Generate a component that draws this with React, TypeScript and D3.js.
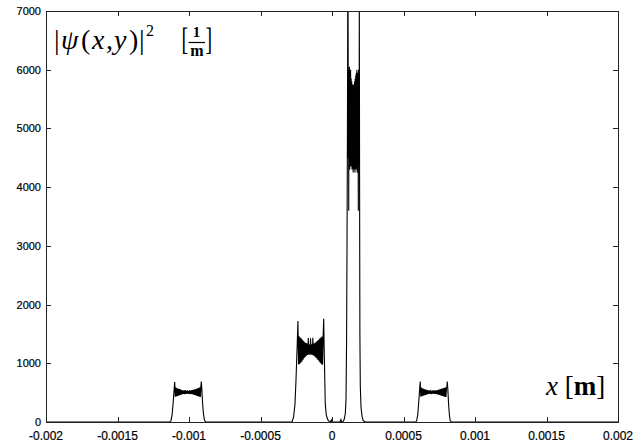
import React, { useEffect } from "react"
import * as d3 from "d3"

// axis ticks
const xTicks = [-0.002, -0.0015, -0.001, -0.0005, 0, 0.0005, 0.001, 0.0015, 0.002]
const xTickLabels = ["-0.002", "-0.0015", "-0.001", "-0.0005", "0", "0.0005", "0.001", "0.0015", "0.002"]
const yTicks = [0, 1000, 2000, 3000, 4000, 5000, 6000, 7000]
const yTickLabels = ["0", "1000", "2000", "3000", "4000", "5000", "6000", "7000"]

// |psi|^2, [x in m, value in 1/m]
const lobeLeft: [number, number][] = [
	[-0.001135, 0], [-0.001126, 20], [-0.001118, 130], [-0.001111, 320], [-0.001104, 560],
	[-0.0011, 680], [-0.001098, 560],
	[-0.001096, 430], [-0.001092, 590], [-0.001088, 435], [-0.001084, 575], [-0.00108, 445],
	[-0.001076, 570], [-0.001072, 450], [-0.001068, 560], [-0.001064, 455], [-0.00106, 555],
	[-0.001056, 465], [-0.001052, 545], [-0.001048, 470], [-0.001044, 540], [-0.00104, 480],
	[-0.001036, 535], [-0.001032, 475], [-0.001028, 545], [-0.001024, 480], [-0.00102, 530],
	[-0.001016, 485], [-0.001012, 540], [-0.001008, 478], [-0.001004, 530], [-0.001, 482],
	[-0.000996, 538], [-0.000992, 476], [-0.000988, 535], [-0.000984, 480], [-0.00098, 542],
	[-0.000976, 472], [-0.000972, 548], [-0.000968, 465], [-0.000964, 552], [-0.00096, 460],
	[-0.000956, 558], [-0.000952, 452], [-0.000948, 565], [-0.000944, 445], [-0.00094, 572],
	[-0.000936, 440], [-0.000932, 580], [-0.000928, 432], [-0.000924, 590], [-0.00092, 428],
	[-0.000917, 600], [-0.000914, 690], [-0.00091, 560], [-0.000905, 320], [-0.000899, 140],
	[-0.000892, 30], [-0.000882, 0],
]

const lobeMidLeft: [number, number][] = [
	[-0.00028, 0], [-0.000269, 80], [-0.000259, 300], [-0.000252, 700], [-0.000245, 1200],
	[-0.000238, 1720], [-0.000236, 1300],
	[-0.000234, 980], [-0.00023, 1460], [-0.000226, 990], [-0.000222, 1440], [-0.000218, 1010],
	[-0.000214, 1420], [-0.00021, 1030], [-0.000206, 1400], [-0.000202, 1060], [-0.000198, 1380],
	[-0.000194, 1090], [-0.00019, 1360], [-0.000186, 1110], [-0.000182, 1345], [-0.000178, 1130],
	[-0.000174, 1335], [-0.00017, 1140], [-0.000166, 1430], [-0.000162, 1150], [-0.000158, 1320],
	[-0.000154, 1145], [-0.00015, 1425], [-0.000146, 1150], [-0.000142, 1325], [-0.000138, 1140],
	[-0.000134, 1435], [-0.00013, 1135], [-0.000126, 1335], [-0.000122, 1120], [-0.000118, 1350],
	[-0.000114, 1100], [-0.00011, 1365], [-0.000106, 1080], [-0.000102, 1385], [-0.000098, 1055],
	[-0.000094, 1400], [-0.00009, 1030], [-0.000086, 1420], [-0.000082, 1005], [-0.000078, 1440],
	[-0.000074, 985], [-0.00007, 1455], [-0.000066, 975], [-0.000062, 1460],
	[-0.000058, 1760], [-0.000055, 1300], [-0.000051, 800], [-0.000047, 300], [-0.00004, 120],
	[-0.00003, 40], [-0.00002, 10], [-0.000012, 0],
]

const gapCentre: [number, number][] = [
	[-0.000004, 35], [-0.000001, 5], [0.00001, 0], [0.000055, 0], [0.000062, 40],
	[0.000066, 10], [0.000075, 0],
]

const lobeCentre: [number, number][] = [
	[0.000085, 40], [0.000093, 140], [0.000098, 380], [0.000102, 1400], [0.000105, 3000],
	[0.000108, 5000], [0.00011, 7000], [0.000112, 8000],
	[0.000114, 4500], [0.000116, 6000], [0.000117, 3600], [0.000118, 5900], [0.00012, 4350],
	[0.000122, 6050], [0.000124, 4300], [0.000126, 5950], [0.000128, 4400], [0.00013, 6000],
	[0.000132, 4350], [0.000134, 5850], [0.000136, 4450], [0.000138, 5800], [0.00014, 4300],
	[0.000142, 5750], [0.000144, 4400], [0.000146, 5700], [0.000148, 4250], [0.00015, 5750],
	[0.000152, 4350], [0.000154, 5700], [0.000156, 4300], [0.000158, 5800], [0.00016, 4250],
	[0.000162, 5850], [0.000164, 4400], [0.000166, 5900], [0.000168, 4300], [0.00017, 5950],
	[0.000172, 4350], [0.000174, 6000], [0.000176, 4250], [0.000178, 5950], [0.00018, 4350],
	[0.000182, 5900], [0.000184, 3600], [0.000186, 6000], [0.000188, 4400], [0.00019, 5200],
	[0.000191, 7200], [0.000193, 4000], [0.000195, 1500], [0.000198, 600], [0.000203, 250],
	[0.00021, 100], [0.000217, 30], [0.000231, 0],
]

const lobeRight: [number, number][] = [
	[0.000585, 0], [0.000592, 20], [0.0006, 130], [0.000606, 320], [0.000613, 560],
	[0.000617, 690], [0.000619, 560],
	[0.000621, 432], [0.000625, 585], [0.000629, 438], [0.000633, 572], [0.000637, 446],
	[0.000641, 566], [0.000645, 452], [0.000649, 558], [0.000653, 460], [0.000657, 552],
	[0.000661, 466], [0.000665, 545], [0.000669, 472], [0.000673, 540], [0.000677, 478],
	[0.000681, 536], [0.000685, 481], [0.000689, 542], [0.000693, 476], [0.000697, 532],
	[0.000701, 484], [0.000705, 538], [0.000709, 479], [0.000713, 534], [0.000717, 483],
	[0.000721, 540], [0.000725, 477], [0.000729, 536], [0.000733, 474], [0.000737, 544],
	[0.000741, 468], [0.000745, 550], [0.000749, 462], [0.000753, 555], [0.000757, 456],
	[0.000761, 561], [0.000765, 449], [0.000769, 568], [0.000773, 442], [0.000777, 575],
	[0.000781, 436], [0.000785, 582], [0.000789, 430], [0.000793, 588], [0.000797, 426],
	[0.000801, 592],
	[0.000804, 600], [0.000806, 690], [0.00081, 560], [0.000815, 320], [0.00082, 140],
	[0.000826, 30], [0.000834, 0],
]

const width = 635
const height = 448
const margin = { top: 11, right: 17, bottom: 26, left: 46 }
const tickLen = 5
const serif = "'Liberation Serif', 'DejaVu Serif', serif"

const App = () => {
	useEffect(() => {
		document.body.style.margin = "0"
	}, [])

	const x = d3
		.scaleLinear()
		.domain([-0.002, 0.002])
		.range([margin.left, width - margin.right])
	const y = d3
		.scaleLinear()
		.domain([0, 7000])
		.range([height - margin.bottom, margin.top])

	const series: [number, number][] = [
		[-0.002, 0],
		...lobeLeft,
		...lobeMidLeft,
		...gapCentre,
		...lobeCentre,
		...lobeRight,
		[0.002, 0],
	]

	const line = d3
		.line<[number, number]>()
		.x(d => x(d[0]))
		.y(d => y(d[1]))

	const [x0, x1] = x.range()
	const [y0, y1] = y.range()

	return (
		<svg width={width} height={height} style={{ display: "block", background: "#fff" }}>
			<defs>
				<clipPath id="plot-clip">
					<rect x={x0} y={y1} width={x1 - x0} height={y0 - y1} />
				</clipPath>
			</defs>

			{/* curve */}
			<path
				d={line(series) ?? ""}
				fill="none"
				stroke="#000"
				strokeWidth={1.1}
				clipPath="url(#plot-clip)"
			/>

			{/* ticks, mirrored on all four sides */}
			<g stroke="#222" strokeWidth={1}>
				{xTicks.map(t => (
					<g key={"xt" + t}>
						<line x1={Math.round(x(t)) + 0.5} x2={Math.round(x(t)) + 0.5} y1={y0} y2={y0 - tickLen} />
						<line x1={Math.round(x(t)) + 0.5} x2={Math.round(x(t)) + 0.5} y1={y1} y2={y1 + tickLen} />
					</g>
				))}
				{yTicks.map(t => (
					<g key={"yt" + t}>
						<line x1={x0} x2={x0 + tickLen} y1={Math.round(y(t)) + 0.5} y2={Math.round(y(t)) + 0.5} />
						<line x1={x1} x2={x1 - tickLen} y1={Math.round(y(t)) + 0.5} y2={Math.round(y(t)) + 0.5} />
					</g>
				))}
			</g>

			{/* frame */}
			<rect
				x={x0 + 0.5}
				y={y1 + 0.5}
				width={x1 - x0}
				height={y0 - y1}
				fill="none"
				stroke="#222"
				strokeWidth={1}
			/>

			{/* tick labels */}
			<g fontFamily="'Liberation Sans', Arial, sans-serif" fontSize={12} fill="#000" stroke="#000" strokeWidth={0.2}>
				{xTicks.map((t, i) => (
					<text key={"xl" + t} x={x(t)} y={y0 + 18} textAnchor="middle">
						{xTickLabels[i]}
					</text>
				))}
				{yTicks.map((t, i) => (
					<text key={"yl" + t} x={x0 - 5} y={y(t) + 4} textAnchor="end" fontSize={11}>
						{yTickLabels[i]}
					</text>
				))}
			</g>

			{/* y label: |psi(x,y)|^2 [1/m] */}
			<g fontFamily={serif} fill="#000">
				<text y={49} fontSize={28}>
					<tspan x={54}>|</tspan>
					<tspan x={61} fontStyle="italic">ψ</tspan>
					<tspan x={81}>(</tspan>
					<tspan x={92} fontStyle="italic">x</tspan>
					<tspan x={106}>,</tspan>
					<tspan x={114} fontStyle="italic">y</tspan>
					<tspan x={129}>)</tspan>
					<tspan x={139}>|</tspan>
				</text>
				<text x={146} y={36} fontSize={16}>2</text>
				<text transform="translate(181.5,49.5) scale(1,1.55)" fontSize={20}>[</text>
				<text x={196.5} y={36.5} fontSize={15} fontWeight="bold" textAnchor="middle">1</text>
				<line x1={188.5} x2={205} y1={42.5} y2={42.5} stroke="#000" strokeWidth={1.2} />
				<text x={196.8} y={55.5} fontSize={16} fontWeight="bold" textAnchor="middle">m</text>
				<text transform="translate(205.5,49.5) scale(1,1.55)" fontSize={20}>]</text>
			</g>

			{/* x label */}
			<text x={546} y={395} fontFamily={serif} fontSize={27} fill="#000">
				<tspan fontStyle="italic">x</tspan>
				<tspan> [</tspan>
				<tspan fontWeight="bold">m</tspan>
				<tspan>]</tspan>
			</text>
		</svg>
	)
}

export default App
